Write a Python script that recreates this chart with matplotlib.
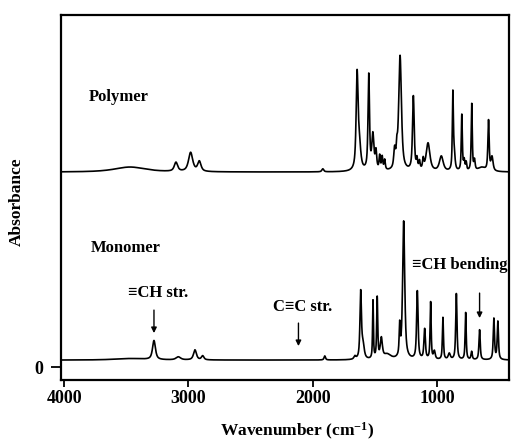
import numpy as np
import matplotlib
matplotlib.use("Agg")
import matplotlib.pyplot as plt

plt.rcParams['font.family'] = ['Liberation Serif', 'DejaVu Serif']
plt.rcParams['font.weight'] = 'bold'
plt.rcParams['mathtext.default'] = 'regular'

# ---- data (wavenumber cm-1, height, half-width) ----
poly_baseline = 1.95
poly_pos = [3470, 3100, 2982, 2912, 1918, 1642, 1625, 1548, 1515, 1490, 1460, 1440,
            1420, 1340, 1322, 1296, 1189, 1160, 1140, 1110, 1071, 964, 871, 860,
            799, 780, 764, 719, 697, 640, 584, 556]
poly_height = [0.05, 0.09, 0.19, 0.10, 0.03, 0.92, 0.25, 0.95, 0.35, 0.18, 0.14, 0.13,
               0.10, 0.18, 0.15, 1.15, 0.74, 0.10, 0.08, 0.10, 0.28, 0.15, 0.76, 0.15,
               0.56, 0.10, 0.08, 0.67, 0.10, 0.04, 0.50, 0.14]
poly_width = [150, 16, 20, 16, 9, 9, 14, 7, 10, 7, 6, 6,
              6, 8, 6, 13, 8, 6, 6, 6, 18, 18, 5, 8,
              5, 6, 5, 5, 6, 35, 6, 10]

mono_baseline = 0.07
mono_pos = [3470, 3277, 3081, 2947, 2885, 1902, 1660, 1613, 1595, 1514, 1480, 1447,
            1400, 1299, 1267, 1157, 1098, 1050, 1020, 951, 900, 843, 768, 720,
            656, 541, 509]
mono_height = [0.015, 0.19, 0.03, 0.10, 0.04, 0.04, 0.03, 0.66, 0.14, 0.58, 0.61, 0.20,
               0.05, 0.30, 1.38, 0.68, 0.30, 0.57, 0.08, 0.42, 0.06, 0.66, 0.47, 0.08,
               0.30, 0.41, 0.38]
mono_width = [150, 14, 22, 14, 12, 7, 9, 7, 12, 4, 5, 10,
              35, 5, 10, 7, 7, 5, 8, 5, 10, 6, 5, 6,
              6, 6, 6]

labels_text = ["Polymer", "Monomer", "\u2261CH str.", "C\u2261C str.", "\u2261CH bending"]
arrow_pos = [3277, 2114, 656]
xticks = [4000, 3000, 2000, 1000]

# ---- spectra built from the listed bands ----
wn = np.arange(4025, 419, -1.0)

def spectrum(base, pos, height, width):
    y = np.full_like(wn, base)
    for p, h, w in zip(pos, height, width):
        lor = w**2 / ((wn - p)**2 + w**2)
        gau = np.exp(-np.log(2) * ((wn - p) / w)**2)
        y += h * (0.75 * lor + 0.25 * gau)
    return y

poly = spectrum(poly_baseline, poly_pos, poly_height, poly_width)
mono = spectrum(mono_baseline, mono_pos, mono_height, mono_width)

fig = plt.figure(figsize=(5.13, 4.43), dpi=100)
ax = fig.add_axes([0.119, 0.142, 0.873, 0.824])
ax.plot(wn, poly, color='black', lw=1.2)
ax.plot(wn, mono, color='black', lw=1.2)

ax.set_xlim(4025, 420)
ax.set_ylim(-0.13, 3.52)
ax.set_xticks(xticks)
ax.set_xticklabels([str(t) for t in xticks])
ax.set_yticks([0])
ax.set_yticklabels(['0'])
for s in ax.spines.values():
    s.set_linewidth(1.6)
ax.tick_params(axis='x', direction='out', length=5, width=1.3, pad=2, labelsize=13)
ax.tick_params(axis='y', direction='out', length=7, width=1.3, pad=6, labelsize=13)

ax.set_xlabel("Wavenumber (cm$^{-1}$)", fontsize=12.5, fontweight='bold')
ax.xaxis.set_label_coords(0.527, -0.142)
ax.xaxis.label.set_verticalalignment('center')
ax.set_ylabel("Absorbance", fontsize=12.5, fontweight='bold')
ax.yaxis.set_label_coords(-0.098, 0.488)
ax.yaxis.label.set_verticalalignment('center')

fs = 12
ax.text(3799, 2.70, labels_text[0], fontsize=fs, ha='left', va='center')
ax.text(3783, 1.19, labels_text[1], fontsize=fs, ha='left', va='center')
ax.text(3244, 0.74, labels_text[2], fontsize=fs, ha='center', va='center')
ax.text(2083, 0.60, labels_text[3], fontsize=fs, ha='center', va='center')
ax.text(817, 1.02, labels_text[4], fontsize=fs, ha='center', va='center')

arrow_y = [(0.57, 0.34), (0.44, 0.21), (0.74, 0.49)]
for x, (y0, y1) in zip(arrow_pos, arrow_y):
    ax.annotate("", xy=(x, y1), xytext=(x, y0),
                arrowprops=dict(arrowstyle='-|>', lw=1.0, color='black',
                                mutation_scale=8, shrinkA=0, shrinkB=0))

fig.savefig("out.png", dpi=100)
